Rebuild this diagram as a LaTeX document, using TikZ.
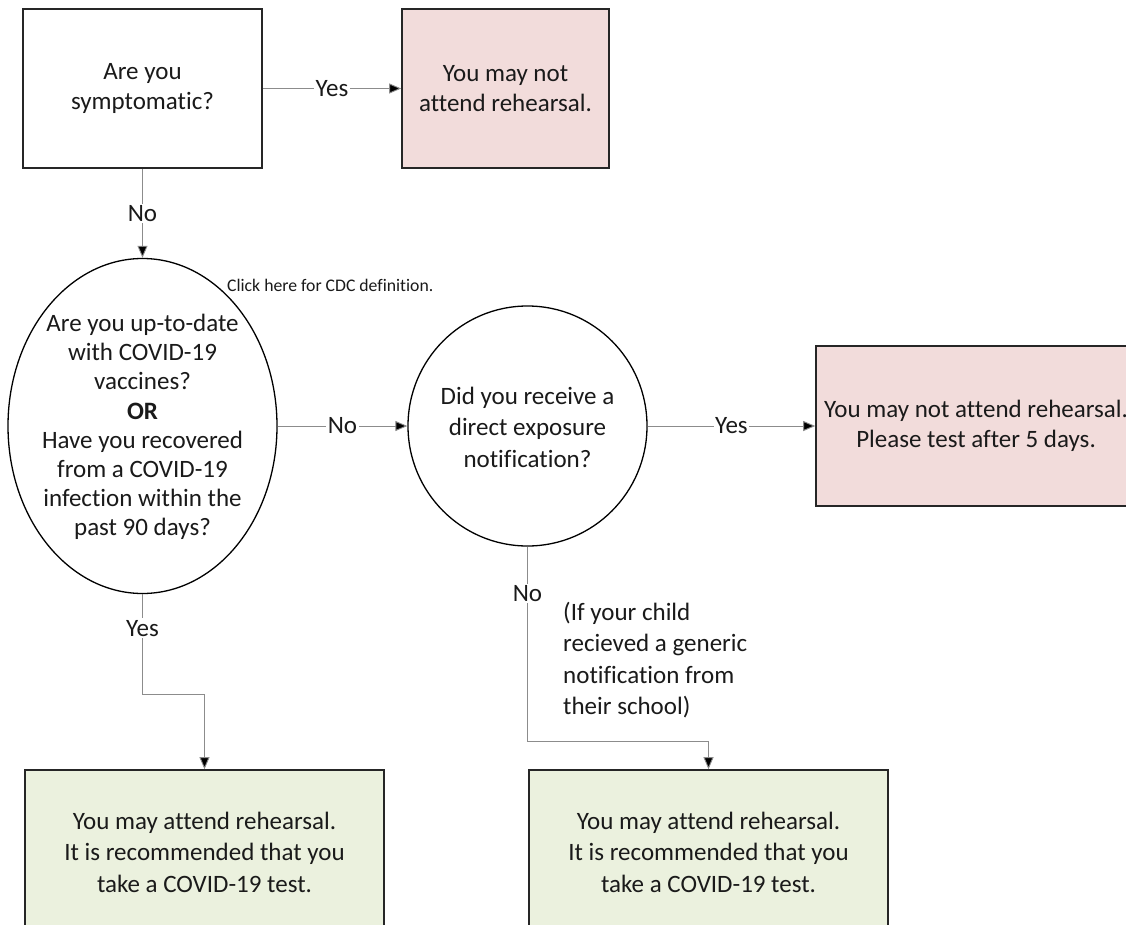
\documentclass[tikz,border=0pt]{standalone}
\usepackage{fontspec}
\setmainfont{Carlito}[Ligatures=NoCommon]
\usetikzlibrary{arrows.meta,shapes.geometric}
\definecolor{redfill}{HTML}{F2DCDB}
\definecolor{greenfill}{HTML}{EBF1DE}
\definecolor{linegray}{HTML}{8C8C8C}
\definecolor{txt}{HTML}{1A1A1A}
\tikzset{
  mainfont/.style={font=\fontsize{25}{30}\selectfont, text=txt},
  box/.style={draw=black!85, line width=1.6pt, rectangle, inner sep=0pt, align=center, mainfont},
  redbox/.style={box, fill=redfill},
  greenbox/.style={box, fill=greenfill},
  oval/.style={draw=black, line width=1.3pt, ellipse, inner sep=0pt},
  ovaltext/.style={align=center, inner sep=0pt, mainfont},
  conn/.style={draw=linegray, line width=0.9pt, -{Triangle[length=12pt,width=10pt,fill=black]}},
  lbl/.style={fill=white, inner sep=1.5pt, mainfont},
}
\begin{document}
\begin{tikzpicture}[x=1pt,y=-1pt]
\useasboundingbox (0,0) rectangle (1126,925);
\clip (0,0) rectangle (1126,925);
\fill[white] (0,0) rectangle (1126,925);

% nodes
\node[box, minimum width=239pt, minimum height=159pt] (q1) at (142.5,88.5) {Are you\\symptomatic?};
\node[redbox, minimum width=207pt, minimum height=159pt] (r1) at (505.5,88.5) {You may not\\attend rehearsal.};

\node[oval, minimum width=269pt, minimum height=335pt] (q2) at (142.5,426) {};
\node[ovaltext, font=\fontsize{25}{29.2}\selectfont] (q2t) at (142.5,427) {Are you up-to-date\\with COVID-19\\vaccines?\\\textbf{OR}\\Have you recovered\\from a COVID-19\\infection within the\\past 90 days?};
\node[font=\fontsize{17.7}{20}\selectfont, text=txt, anchor=west, inner sep=0pt] (cdc) at (227,285) {Click here for CDC definition.};

\node[oval, minimum width=239pt, minimum height=240pt] (q3) at (527.5,426) {};
\node[ovaltext, font=\fontsize{25}{31.5}\selectfont] (q3t) at (527.5,427) {Did you receive a\\direct exposure\\notification?};

\node[redbox, minimum width=320pt, minimum height=160pt] (r2) at (976,426) {You may not attend rehearsal.\\Please test after 5 days.};

\node[greenbox, minimum width=359pt, minimum height=164pt, font=\fontsize{25}{31.5}\selectfont] (g1) at (204.5,852) {You may attend rehearsal.\\It is recommended that you\\take a COVID-19 test.};
\node[greenbox, minimum width=359pt, minimum height=164pt, font=\fontsize{25}{31.5}\selectfont] (g2) at (708.5,852) {You may attend rehearsal.\\It is recommended that you\\take a COVID-19 test.};

\node[align=left, anchor=north west, inner sep=0pt, font=\fontsize{25}{31.5}\selectfont, text=txt] (note) at (563,602) {(If your child\\recieved a generic\\notification from\\their school)};

\coordinate (c1) at (142.5,694);
\coordinate (c2) at (527.5,741);

% connectors
\draw[conn] (q1.east) -- node[lbl]{Yes} (r1.west);
\draw[conn] (q1.south) -- node[lbl]{No} (q2.north);
\draw[conn] (q2.east) -- node[lbl]{No} (q3.west);
\draw[conn] (q3.east) -- node[lbl]{Yes} (r2.west);
\draw[conn] (q2.south) -- node[lbl, pos=0.34]{Yes} (c1) -| (g1.north);
\draw[conn] (q3.south) -- node[lbl, pos=0.24]{No} (c2) -| (g2.north);
\end{tikzpicture}
\end{document}
